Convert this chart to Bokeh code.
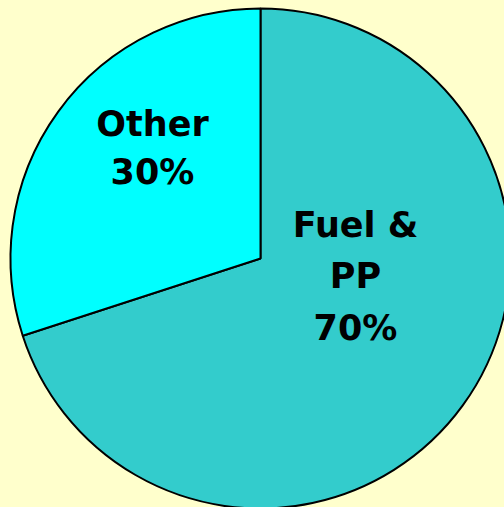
import math
from bokeh.plotting import figure
from bokeh.models import Range1d, ColumnDataSource
from bokeh.core.properties import value
from bokeh.embed import file_html
from bokeh.resources import INLINE

# ---- data ----
categories = ["Fuel & PP", "Other"]
shares = [70, 30]
label_lines = [["Fuel &", "PP", "70%"], ["Other", "30%"]]
colors = ["#33CCCC", "#00FFFF"]

# ---- layout (pixels) ----
W, H = 504, 507
BG = "#FFFFCC"
cx, cy, R = 260, 249, 250
# label block centres (offsets from pie centre) and line step
label_offsets = [(95, -17.5), (-108, 110.5)]
line_step = [51.5, 48]

p = figure(width=W, height=H, output_backend="svg", toolbar_location=None,
           x_range=Range1d(0, W), y_range=Range1d(0, H),
           background_fill_color=BG, border_fill_color=BG, min_border=0)
p.axis.visible = False
p.grid.visible = False
p.outline_line_color = None

total = sum(shares)
starts, ends = [], []
acc = 0.0
for s in shares:
    # clockwise from 12 o'clock
    a0 = math.pi / 2 - 2 * math.pi * acc / total
    acc += s
    a1 = math.pi / 2 - 2 * math.pi * acc / total
    starts.append(a0)
    ends.append(a1)

src = ColumnDataSource(dict(x=[cx] * len(shares), y=[cy] * len(shares),
                            start=starts, end=ends, color=colors, cat=categories))
p.wedge(x="x", y="y", radius=R, start_angle="start", end_angle="end",
        direction="clock", fill_color="color", line_color="black", line_width=2,
        source=src)

tx, ty, tt = [], [], []
for lines, (ox, oy), step in zip(label_lines, label_offsets, line_step):
    n = len(lines)
    for i, t in enumerate(lines):
        tx.append(cx + ox)
        ty.append(cy + oy - (i - (n - 1) / 2) * step)
        tt.append(t)
p.text(x=tx, y=ty, text=tt, text_align="center", text_baseline="middle",
       text_font=value("DejaVu Sans"), text_font_style="bold",
       text_font_size="35px", text_color="black")

html = file_html(p, INLINE)
html = html.replace("<head>", "<head><style>html,body{background:%s;}</style>" % BG, 1)
open("out.html", "w").write(html)
